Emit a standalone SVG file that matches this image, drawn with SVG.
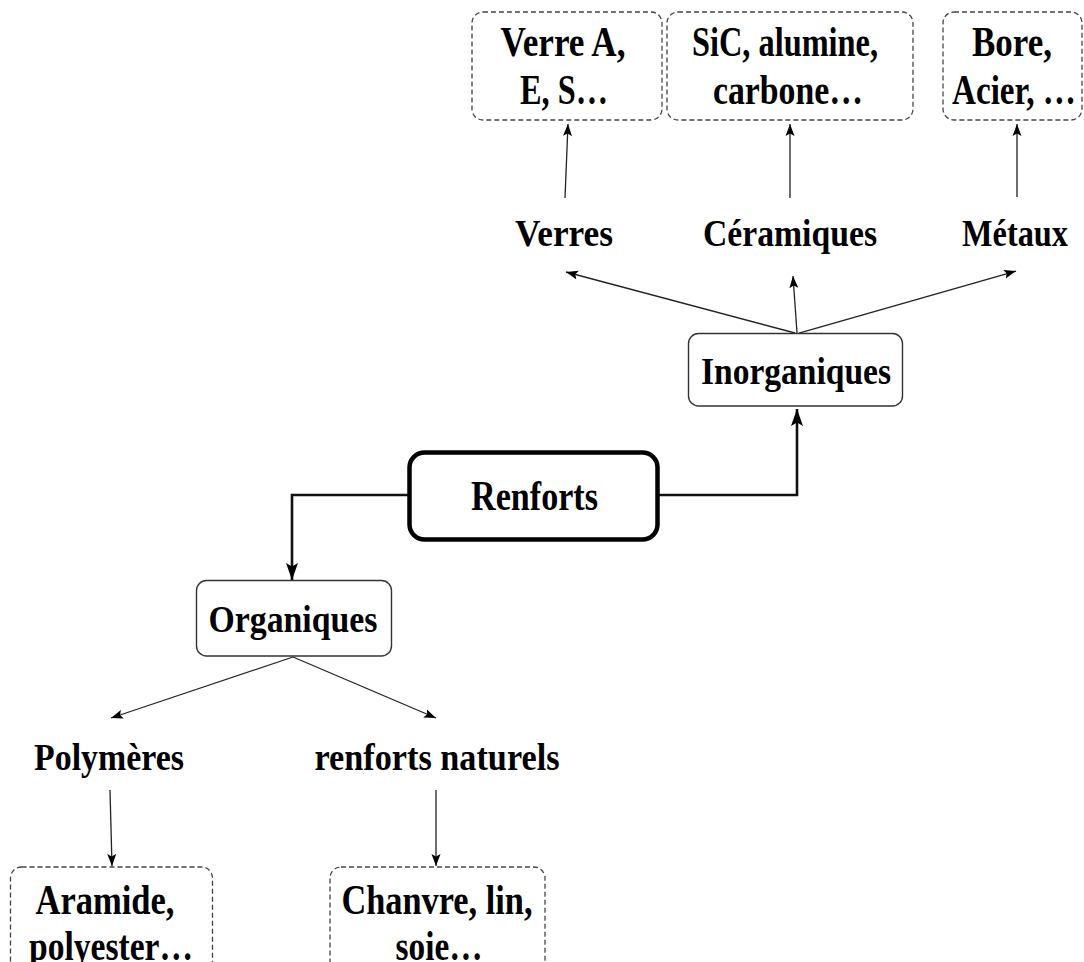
<svg xmlns="http://www.w3.org/2000/svg" width="1084" height="962" viewBox="0 0 1084 962">
<style>
  text { font-family: "Liberation Serif", "Times New Roman", serif; font-weight: bold; fill: #000; text-anchor: middle; }
  .big { font-size: 42px; }
  .lbl { font-size: 37px; }
  .dash { fill: #fff; stroke: #444; stroke-width: 1.3; stroke-dasharray: 5 3; }
  .solid { fill: #fff; stroke: #333; stroke-width: 1.4; }
  .main { fill: #fff; stroke: #000; stroke-width: 4.5; }
  .thin { fill: none; stroke: #222; stroke-width: 1.3; marker-end: url(#ah); }
  .thick { fill: none; stroke: #111; stroke-width: 2.6; marker-end: url(#ahb); }
</style>
<defs>
  <marker id="ah" markerUnits="userSpaceOnUse" markerWidth="13" markerHeight="10" refX="12" refY="5" orient="auto">
    <path d="M0,0.5 L12,5 L0,9.5 L2.5,5 z" fill="#000"/>
  </marker>
  <marker id="ahb" markerUnits="userSpaceOnUse" markerWidth="18" markerHeight="13" refX="17" refY="6.5" orient="auto">
    <path d="M0,0.5 L17,6.5 L0,12.5 L3.5,6.5 z" fill="#000"/>
  </marker>
</defs>
<rect width="1084" height="962" fill="#fff"/>

<g id="connectors">
  <line class="thin" x1="565" y1="198" x2="568" y2="124"/>
  <line class="thin" x1="790" y1="198" x2="790" y2="124"/>
  <line class="thin" x1="1017" y1="197" x2="1017" y2="124"/>
  <line class="thin" x1="795" y1="333" x2="566" y2="272"/>
  <line class="thin" x1="797" y1="333" x2="793" y2="276"/>
  <line class="thin" x1="799" y1="333" x2="1016" y2="271"/>
  <path class="thick" d="M659 495 H797 V409"/>
  <path class="thick" d="M409 495 H292 V580"/>
  <line class="thin" x1="293" y1="657" x2="111" y2="718"/>
  <line class="thin" x1="293" y1="657" x2="436" y2="718"/>
  <line class="thin" x1="110" y1="790" x2="112" y2="866"/>
  <line class="thin" x1="436" y1="790" x2="436" y2="866"/>
</g>

<g id="n-verre">
  <rect class="dash" x="472" y="12" width="190" height="108" rx="11"/>
  <text class="big" x="563" y="56" textLength="125" lengthAdjust="spacingAndGlyphs">Verre A,</text>
  <text class="big" x="564" y="104" textLength="88" lengthAdjust="spacingAndGlyphs">E, S…</text>
</g>
<g id="n-sic">
  <rect class="dash" x="667" y="12" width="246" height="108" rx="11"/>
  <text class="big" x="785" y="56" textLength="186" lengthAdjust="spacingAndGlyphs">SiC, alumine,</text>
  <text class="big" x="788" y="104" textLength="150" lengthAdjust="spacingAndGlyphs">carbone…</text>
</g>
<g id="n-bore">
  <rect class="dash" x="943" y="12" width="139" height="108" rx="11"/>
  <text class="big" x="1012" y="56" textLength="80" lengthAdjust="spacingAndGlyphs">Bore,</text>
  <text class="big" x="1014" y="104" textLength="124" lengthAdjust="spacingAndGlyphs">Acier, …</text>
</g>

<g id="n-verres">
  <text class="lbl" x="564" y="246" textLength="98" lengthAdjust="spacingAndGlyphs">Verres</text>
</g>
<g id="n-ceramiques">
  <text class="lbl" x="790" y="246" textLength="174" lengthAdjust="spacingAndGlyphs">Céramiques</text>
</g>
<g id="n-metaux">
  <text class="lbl" x="1015" y="246" textLength="106" lengthAdjust="spacingAndGlyphs">Métaux</text>
</g>

<g id="n-inorganiques">
  <rect class="solid" x="688.5" y="333.5" width="214" height="72.5" rx="10"/>
  <text class="lbl" x="796" y="384" textLength="190" lengthAdjust="spacingAndGlyphs">Inorganiques</text>
</g>

<g id="n-renforts">
  <rect class="main" x="409.5" y="452.5" width="248" height="87" rx="15"/>
  <text class="big" x="534.5" y="510" textLength="127" lengthAdjust="spacingAndGlyphs">Renforts</text>
</g>

<g id="n-organiques">
  <rect class="solid" x="196.5" y="580.5" width="195" height="75.5" rx="10"/>
  <text class="lbl" x="293" y="632" textLength="169" lengthAdjust="spacingAndGlyphs">Organiques</text>
</g>

<g id="n-polymeres">
  <text class="lbl" x="109" y="770" textLength="150" lengthAdjust="spacingAndGlyphs">Polymères</text>
</g>
<g id="n-naturels">
  <text class="lbl" x="437" y="770" textLength="245" lengthAdjust="spacingAndGlyphs">renforts naturels</text>
</g>

<g id="n-aramide">
  <rect class="dash" x="10.5" y="867" width="202" height="110" rx="11"/>
  <text class="big" x="105" y="914" textLength="139" lengthAdjust="spacingAndGlyphs">Aramide,</text>
  <text class="big" x="111" y="960" textLength="164" lengthAdjust="spacingAndGlyphs">polyester…</text>
</g>
<g id="n-chanvre">
  <rect class="dash" x="330" y="867" width="215" height="110" rx="11"/>
  <text class="big" x="437" y="914" textLength="191" lengthAdjust="spacingAndGlyphs">Chanvre, lin,</text>
  <text class="big" x="439" y="960" textLength="87" lengthAdjust="spacingAndGlyphs">soie…</text>
</g>
</svg>
